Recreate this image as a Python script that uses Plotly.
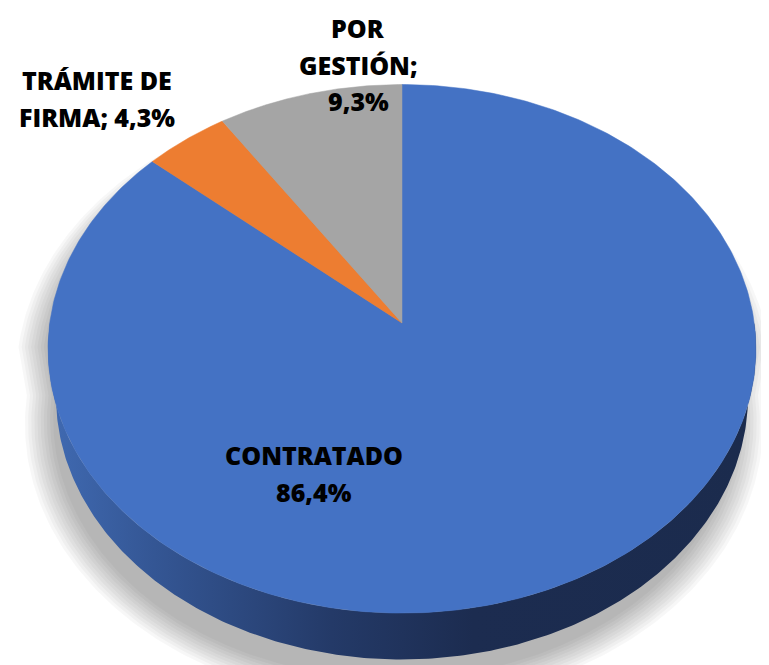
import numpy as np
import plotly.graph_objects as go

# ---- data ----
categories = ["CONTRATADO", "TRÁMITE DE FIRMA", "POR GESTIÓN"]
values = [86.4, 4.3, 9.3]
colors = ["#4472C4", "#ED7D31", "#A5A5A5"]

# ---- geometry: perspective view of a short cylinder (page-pixel space) ----
W, H = 769, 665
OFF = 8                    # default page body margin
cx, cy = 402, 323          # projected centre of the pie
phi = np.radians(48.0)     # camera elevation
S, C = np.sin(phi), np.cos(phi)
D = 6.85                   # camera distance (pie radius = 1)
F = 2413                   # focal scale (px)
h = 0.21                   # pie thickness


def proj(th, Y=0.0, s=1.0, ox=0.0, oy=0.0):
    th = np.asarray(th, dtype=float)
    X = s * np.cos(th)
    Z = -s * np.sin(th)
    w = D - Y * S - Z * C
    x = cx + ox + F * X / w
    y = cy + oy + F * (Z * S - Y * C) / w
    return x, y


fig = go.Figure()

# ---- soft shadow (silhouette layers) ----
t1 = np.linspace(0, np.pi, 200)
t2 = np.linspace(np.pi, 2 * np.pi, 200)
for k in range(10):
    s = 0.985 + 0.009 * k
    xa, ya = proj(t1, 0, s, -8, 24)
    xb, yb = proj(t2, -h, s, -8, 24)
    fig.add_trace(go.Scatter(
        x=np.concatenate([xa, xb]), y=np.concatenate([ya, yb]),
        fill="toself", mode="lines", line=dict(width=0),
        fillcolor="rgba(0,0,0,0.032)", hoverinfo="skip", showlegend=False))

# ---- slice angles (clockwise from 12 o'clock) ----
total = sum(values)
starts, ends = [], []
acc = 0.0
for v in values:
    a0 = acc / total * 2 * np.pi
    acc += v
    a1 = acc / total * 2 * np.pi
    starts.append(np.pi / 2 - a0)
    ends.append(np.pi / 2 - a1)

# ---- side wall (front half, entirely the first slice) ----
tt = np.linspace(np.pi, 2 * np.pi, 300)
xt, yt = proj(tt, 0)
xb, yb = proj(tt[::-1], -h)
fig.add_trace(go.Scatter(
    x=np.concatenate([xt, xb]), y=np.concatenate([yt, yb]),
    fill="toself", mode="lines", line=dict(width=0),
    fillgradient=dict(type="horizontal", colorscale=[
        [0.0, "rgb(64,106,178)"],
        [0.15, "rgb(52,86,148)"],
        [0.40, "rgb(36,58,104)"],
        [0.60, "rgb(28,44,80)"],
        [1.0, "rgb(27,43,77)"],
    ]),
    hoverinfo="skip", showlegend=False))

# ---- top faces of slices ----
for cat, a_s, a_e, col in zip(categories, starts, ends, colors):
    tt = np.linspace(a_s, a_e, 400)
    xs, ys = proj(tt)
    fig.add_trace(go.Scatter(
        x=np.concatenate([[cx], xs, [cx]]), y=np.concatenate([[cy], ys, [cy]]),
        fill="toself", mode="lines", line=dict(width=0.5, color=col),
        fillcolor=col, name=cat, hoverinfo="name", showlegend=False))


def fmt(v):
    return ("%.1f" % v).replace(".", ",") + "%"


label_lines = [
    [categories[0], fmt(values[0])],
    ["TRÁMITE DE", "FIRMA; " + fmt(values[1])],
    ["POR", "GESTIÓN;", fmt(values[2])],
]
label_pos = [(314, 455), (97, 80), (358, 28)]
line_gap = 36.5

font = dict(family="Open Sans", size=25, color="black", weight=800)
for lines, (lx, ly) in zip(label_lines, label_pos):
    for i, ln in enumerate(lines):
        fig.add_annotation(x=lx, y=ly + i * line_gap, text=ln,
                           showarrow=False, xref="x", yref="y",
                           align="center", font=font)

fig.update_layout(
    width=W - OFF, height=H - OFF, margin=dict(l=0, r=0, t=0, b=0),
    paper_bgcolor="white", plot_bgcolor="white",
    xaxis=dict(range=[OFF, W], visible=False, fixedrange=True),
    yaxis=dict(range=[H, OFF], visible=False, fixedrange=True),
    showlegend=False,
)

fig.write_html("out.html")
